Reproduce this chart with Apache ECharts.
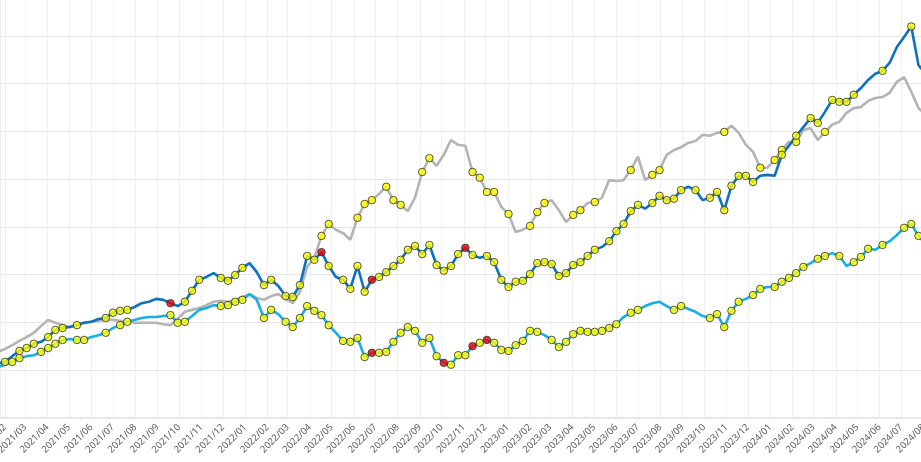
<!DOCTYPE html>
<html>
<head>
<meta charset="utf-8">
<title>走势对比</title>
<script src="https://cdn.jsdelivr.net/npm/echarts@6/dist/echarts.min.js"></script>
<style>
  html, body { margin: 0; padding: 0; background: #fff; }
  #main { width: 921px; height: 462px; }
</style>
</head>
<body>
<div id="main"></div>
<script>
// sample grid: one reading every 10 days
var sampleStart = '2021-01-22';
var sampleStepDays = 10;

var blueValues = [
  11.3, 11.7, 12.9, 14.0, 14.6, 15.5, 15.9, 16.9, 18.4, 18.8,
  19.0, 19.4, 19.9, 20.1, 20.7, 20.9, 22.0, 22.4, 22.6, 23.2,
  24.0, 24.3, 24.9, 24.7, 24.0, 23.4, 24.3, 26.6, 28.9, 29.5,
  30.3, 29.3, 28.7, 29.9, 31.4, 32.4, 30.5, 27.8, 28.9, 27.6,
  25.5, 25.3, 27.8, 33.9, 33.1, 34.7, 31.8, 29.5, 28.9, 27.0,
  31.8, 26.4, 28.9, 29.5, 30.5, 31.8, 33.1, 35.2, 36.0, 34.3,
  36.2, 32.0, 30.8, 31.8, 34.3, 35.6, 34.1, 33.5, 33.9, 32.6,
  28.9, 27.4, 28.5, 28.7, 30.1, 32.4, 32.6, 32.2, 29.7, 30.3,
  32.0, 32.6, 33.9, 35.2, 35.8, 37.0, 39.1, 40.6, 43.3, 44.6,
  43.8, 45.0, 46.5, 45.6, 45.9, 47.7, 48.4, 47.7, 45.6, 46.1,
  47.3, 43.5, 48.6, 50.7, 50.7, 49.4, 50.7, 50.9, 50.7, 55.1,
  57.0, 59.1, 60.9, 62.8, 61.8, 64.1, 66.6, 66.2, 66.2, 67.7,
  69.1, 70.8, 72.1, 72.7, 74.4, 77.7, 79.8, 82.0, 73.9, 72.1
];

var lightBlueValues = [
  10.6, 11.1, 11.7, 12.5, 12.9, 13.1, 13.8, 14.6, 15.5, 16.3,
  16.5, 16.3, 16.3, 16.9, 17.3, 17.8, 18.8, 19.4, 20.1, 20.5,
  20.9, 21.1, 21.1, 21.3, 21.5, 19.9, 20.1, 21.3, 22.6, 23.0,
  23.6, 23.4, 23.6, 24.3, 24.7, 25.9, 24.7, 20.9, 22.6, 21.7,
  20.1, 19.0, 20.9, 23.4, 22.4, 21.5, 19.4, 17.8, 16.1, 15.9,
  16.7, 12.7, 13.6, 13.6, 13.8, 15.9, 17.8, 19.0, 18.2, 15.7,
  16.7, 12.9, 11.5, 11.1, 13.1, 13.1, 15.0, 15.7, 16.3, 15.7,
  14.2, 14.0, 15.2, 16.1, 18.2, 18.0, 17.3, 16.3, 14.8, 15.9,
  17.5, 18.2, 18.0, 18.0, 18.2, 18.8, 19.6, 21.1, 22.0, 22.6,
  23.4, 24.0, 24.3, 23.4, 22.6, 23.4, 22.8, 22.2, 21.3, 20.9,
  21.7, 19.0, 22.4, 24.3, 24.9, 25.7, 27.0, 27.4, 27.4, 28.5,
  29.3, 30.3, 31.6, 32.4, 33.3, 33.9, 34.5, 33.9, 31.8, 32.6,
  33.7, 35.4, 35.2, 36.2, 37.0, 38.3, 39.8, 40.6, 38.1, 36.4
];

var grayValues = [
  13.8, 14.4, 15.2, 16.1, 16.9, 17.8, 19.2, 20.5, 19.9, 19.4,
  19.0, 19.6, 19.9, 20.1, 20.3, 20.5, 20.5, 20.3, 20.1, 19.9,
  19.9, 19.9, 19.9, 19.6, 19.4, 20.7, 22.2, 22.6, 23.0, 23.6,
  24.3, 24.5, 24.3, 24.7, 25.3, 25.9, 25.1, 24.7, 25.5, 25.9,
  24.9, 24.0, 26.4, 31.6, 33.5, 38.1, 40.6, 39.4, 38.7, 37.3,
  41.9, 44.8, 45.6, 46.9, 48.4, 45.6, 44.6, 43.3, 46.1, 51.5,
  54.4, 52.8, 55.1, 58.2, 57.2, 57.0, 51.5, 50.3, 47.3, 47.3,
  44.2, 42.7, 38.9, 39.4, 40.2, 43.1, 45.0, 45.6, 43.5, 41.0,
  42.5, 43.5, 45.0, 45.2, 46.1, 49.8, 49.6, 49.8, 51.9, 54.7,
  49.8, 50.9, 51.9, 55.1, 56.1, 56.7, 57.6, 58.0, 59.3, 59.1,
  59.7, 59.9, 61.2, 59.7, 57.2, 55.7, 52.4, 52.4, 54.0, 56.1,
  57.8, 57.8, 60.3, 60.7, 58.2, 59.9, 61.4, 62.0, 63.9, 64.9,
  65.1, 66.4, 67.0, 67.2, 68.1, 70.4, 71.4, 68.3, 64.9, 63.5
];

// signal markers, given as sample indices on each line
var blueYellowIdx = [1, 3, 4, 5, 7, 8, 9, 11, 15, 16, 17, 18, 26, 27, 28, 31, 32, 33, 34, 37,
  38, 40, 41, 42, 43, 44, 46, 48, 49, 50, 51, 53, 54, 55, 56, 57, 58, 59, 60, 61,
  62, 63, 64, 66, 68, 69, 70, 71, 72, 73, 74, 75, 76, 77, 78, 79, 80, 81, 82, 83,
  85, 86, 87, 88, 89, 91, 92, 93, 94, 95, 97, 99, 100, 101, 102, 103, 104, 105, 109, 111,
  113, 114, 116, 117, 118, 119, 123, 127];
var blueRedIdx = [24, 45, 52, 65];
var lightBlueYellowIdx = [0, 2, 3, 6, 7, 8, 9, 11, 12, 15, 17, 18, 24, 25, 26, 31, 32, 33, 34, 37,
  38, 40, 41, 42, 43, 44, 45, 46, 48, 49, 50, 51, 53, 54, 55, 56, 57, 58, 59, 60,
  61, 63, 64, 65, 67, 69, 70, 71, 72, 73, 74, 75, 77, 78, 79, 80, 81, 82, 83, 84,
  85, 86, 88, 89, 94, 95, 99, 100, 101, 102, 103, 105, 106, 108, 109, 110, 111, 112, 114, 115,
  117, 119, 120, 121, 123, 126, 127, 128];
var lightBlueRedIdx = [52, 62, 66, 68];
var grayYellowIdx = [45, 46, 50, 51, 52, 54, 55, 56, 59, 60, 66, 67, 68, 69, 71, 74, 75, 76, 80, 81,
  83, 88, 91, 92, 101, 106, 108, 109, 111, 115];

var axisMin = '2021-01-25';
var axisMax = '2024-08-01';

var DAY = 24 * 3600 * 1000;
var t0 = new Date(sampleStart + 'T00:00:00').getTime();
var dates = blueValues.map(function (v, i) { return t0 + i * sampleStepDays * DAY; });

function pairs(values) {
  return values.map(function (v, i) { return [dates[i], v]; });
}
function pick(values, idx) {
  return idx.map(function (i) { return [dates[i], values[i]]; });
}

var chart = echarts.init(document.getElementById('main'), null, { renderer: 'canvas' });

function lineSeries(name, values, color) {
  return {
    name: name,
    type: 'line',
    data: pairs(values),
    showSymbol: false,
    symbol: 'none',
    lineStyle: { color: color, width: 2.6 },
    itemStyle: { color: color },
    z: 2
  };
}
function markSeries(name, points, fill) {
  return {
    name: name,
    type: 'scatter',
    data: points,
    symbol: 'circle',
    symbolSize: 7.5,
    itemStyle: { color: fill, borderColor: '#2a2a2a', borderWidth: 1 },
    z: 5
  };
}

var option = {
  animation: false,
  backgroundColor: '#fff',
  grid: {
    left: 0, right: -2.5, top: -11.7, bottom: 44.3,
    containLabel: false,
    outerBoundsMode: 'none'
  },
  xAxis: {
    type: 'time',
    min: axisMin,
    max: axisMax,
    splitNumber: 42,
    minInterval: 28 * DAY,
    maxInterval: 31 * DAY,
    axisLine: { lineStyle: { color: '#e3e3e3', width: 1.5 } },
    axisTick: { show: false },
    axisLabel: {
      rotate: 45,
      formatter: '{yyyy}/{MM}',
      color: '#5a5a5a',
      fontSize: 9.5,
      fontFamily: 'Noto Sans',
      showMinLabel: false,
      hideOverlap: false
    },
    splitLine: { show: true, lineStyle: { color: '#f0f0f0', width: 1 } }
  },
  yAxis: {
    type: 'value',
    min: 0,
    max: 90,
    interval: 10,
    axisLine: { show: false },
    axisTick: { show: false },
    axisLabel: { show: false },
    splitLine: { lineStyle: { color: '#e6e6e6', width: 1 } }
  },
  series: [
    lineSeries('gray', grayValues, '#b4b4b4'),
    lineSeries('lightBlue', lightBlueValues, '#19aeea'),
    lineSeries('blue', blueValues, '#0b72c2'),
    markSeries('grayBuy', pick(grayValues, grayYellowIdx), '#ffff00'),
    markSeries('lightBlueBuy', pick(lightBlueValues, lightBlueYellowIdx), '#ffff00'),
    markSeries('lightBlueSell', pick(lightBlueValues, lightBlueRedIdx), '#ee0000'),
    markSeries('blueBuy', pick(blueValues, blueYellowIdx), '#ffff00'),
    markSeries('blueSell', pick(blueValues, blueRedIdx), '#ee0000')
  ]
};

chart.setOption(option);
</script>
</body>
</html>
